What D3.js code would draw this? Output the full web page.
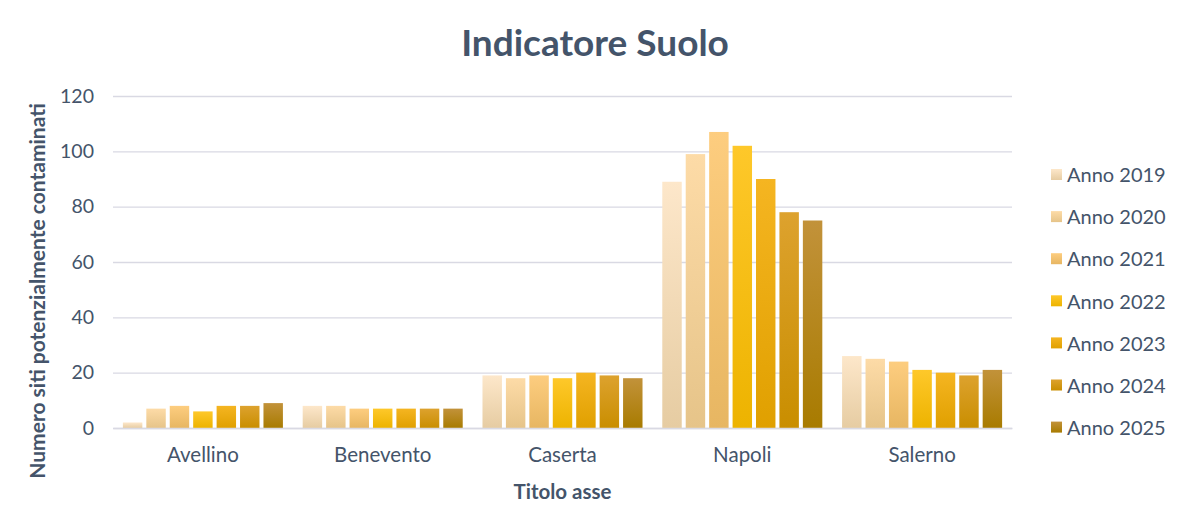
<!DOCTYPE html>
<html>
<head>
<meta charset="utf-8">
<script src="https://cdn.jsdelivr.net/npm/d3@7"></script>
<style>
  body { margin: 0; background: #fff; }
  text { font-family: Lato, "Open Sans", sans-serif; }
</style>
</head>
<body>
<svg id="chart"></svg>
<script>
const province = ["Avellino", "Benevento", "Caserta", "Napoli", "Salerno"];
const anni = ["Anno 2019", "Anno 2020", "Anno 2021", "Anno 2022", "Anno 2023", "Anno 2024", "Anno 2025"];
// values per anno, in order of province
const anno2019 = [2, 8, 19, 89, 26];
const anno2020 = [7, 8, 18, 99, 25];
const anno2021 = [8, 7, 19, 107, 24];
const anno2022 = [6, 7, 18, 102, 21];
const anno2023 = [8, 7, 20, 90, 20];
const anno2024 = [8, 7, 19, 78, 19];
const anno2025 = [9, 7, 18, 75, 21];
const serie = [anno2019, anno2020, anno2021, anno2022, anno2023, anno2024, anno2025];
const yTicks = [0, 20, 40, 60, 80, 100, 120];

// gradient colors top -> bottom
const coloriTop = ["#FDE7CA", "#FDDBA7", "#FDCD7F", "#FEC82A", "#F5B521", "#DDA22E", "#C2923A"];
const coloriBot = ["#E6CCA2", "#E6C489", "#E7B662", "#EDB300", "#E0A000", "#C98E00", "#A87B00"];

const W = 1193, H = 532;
const margin = {top: 96, right: 181, bottom: 104, left: 113};
const width = W - margin.left - margin.right;
const height = H - margin.top - margin.bottom;

const svg = d3.select("#chart").attr("width", W).attr("height", H);

const defs = svg.append("defs");
anni.forEach((a, i) => {
  const g = defs.append("linearGradient")
    .attr("id", "grad" + i)
    .attr("x1", 0).attr("y1", 0).attr("x2", 0).attr("y2", 1);
  g.append("stop").attr("offset", "0%").attr("stop-color", coloriTop[i]);
  g.append("stop").attr("offset", "100%").attr("stop-color", coloriBot[i]);
});

const g = svg.append("g").attr("transform", `translate(${margin.left},${margin.top})`);

const x0 = d3.scaleBand().domain(province).range([0, width]).paddingInner(0.11).paddingOuter(0.055);
const x1 = d3.scaleBand().domain(anni).range([0, x0.bandwidth()]).paddingInner(0.17);
const y = d3.scaleLinear().domain([0, 120]).range([height, 0]);

// gridlines
g.append("g")
  .call(d3.axisLeft(y).tickValues(yTicks).tickSize(-width).tickFormat(""))
  .call(s => s.select(".domain").remove())
  .call(s => s.selectAll("line").attr("stroke", "#D9D9E3").attr("stroke-width", 1.3));

// y tick labels
g.append("g")
  .call(d3.axisLeft(y).tickValues(yTicks).tickSize(0).tickPadding(19))
  .call(s => s.select(".domain").remove())
  .call(s => s.selectAll("text").attr("fill", "#44546A").style("font-size", "19.5px"));

// bars
const rows = [];
serie.forEach((vals, si) => vals.forEach((v, pi) => rows.push({prov: province[pi], anno: anni[si], si, v})));
g.selectAll("rect.bar")
  .data(rows)
  .join("rect")
  .attr("class", "bar")
  .attr("x", d => x0(d.prov) + x1(d.anno))
  .attr("y", d => y(d.v))
  .attr("width", x1.bandwidth())
  .attr("height", d => height - y(d.v))
  .attr("fill", d => `url(#grad${d.si})`);

// x axis
g.append("g")
  .attr("transform", `translate(0,${height})`)
  .call(d3.axisBottom(x0).tickSize(0).tickPadding(19))
  .call(s => s.select(".domain").attr("stroke", "#D9D9E3").attr("stroke-width", 1.3))
  .call(s => s.selectAll("text").attr("fill", "#44546A").style("font-size", "20.5px"));

// titles
svg.append("text")
  .attr("x", 595).attr("y", 56)
  .attr("text-anchor", "middle")
  .attr("fill", "#44546A")
  .style("font-size", "37px").style("font-weight", "bold")
  .text("Indicatore Suolo");

svg.append("text")
  .attr("x", margin.left + width / 2).attr("y", 499)
  .attr("text-anchor", "middle")
  .attr("fill", "#44546A")
  .style("font-size", "20.5px").style("font-weight", "bold")
  .text("Titolo asse");

svg.append("text")
  .attr("transform", `translate(45,${291}) rotate(-90)`)
  .attr("text-anchor", "middle")
  .attr("fill", "#44546A")
  .style("font-size", "21px").style("font-weight", "bold")
  .text("Numero siti potenzialmente contaminati");

// legend
const leg = svg.append("g").attr("transform", "translate(1051,175)");
const li = leg.selectAll("g").data(anni).join("g")
  .attr("transform", (d, i) => `translate(0,${i * 42.1})`);
li.append("rect").attr("x", 0).attr("y", -6).attr("width", 11).attr("height", 11)
  .attr("fill", (d, i) => `url(#grad${i})`);
li.append("text").attr("x", 16).attr("y", 0).attr("dy", "0.36em")
  .attr("fill", "#44546A").style("font-size", "20px")
  .text(d => d);
</script>
</body>
</html>
